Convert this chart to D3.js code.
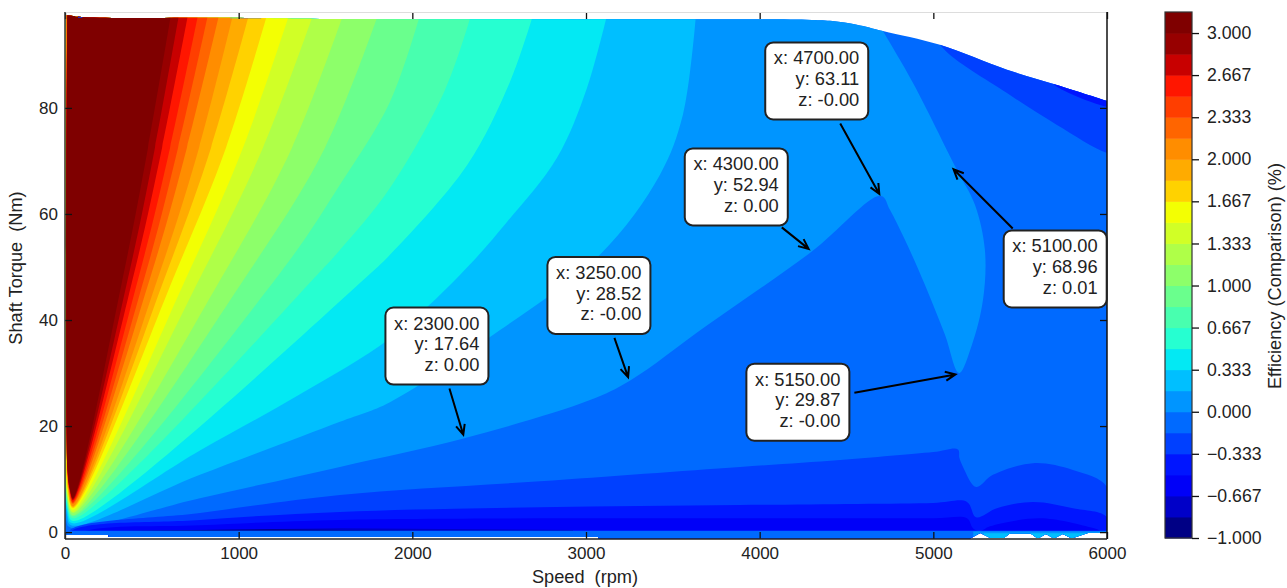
<!DOCTYPE html>
<meta charset="utf-8">
<style>
  html, body { margin: 0; background: #fff; }
  text { font-family: "Liberation Sans", Arial, sans-serif; fill: #222; white-space: pre; }
</style>
<script src="https://d3js.org/d3.v7.min.js"></script>
<div id="my_dataviz"></div>
<script>
  // Colour bands, lowest to highest (one per contour interval)
  const bandColors = ["#000085", "#0000c8", "#0000f8", "#0015ff", "#0040ff", "#006aff", "#0095ff",
    "#00bfff", "#03e9f3", "#26ffd1", "#48ffaf", "#6aff8d", "#8dff6a", "#afff48", "#d1ff26",
    "#f3ff03", "#ffd200", "#ffab00", "#ff8d00", "#ff6500", "#ff3e00", "#ff1600", "#c80000",
    "#970000", "#7f0000"];
  const levelMin = -1;
  const levelStep = 1 / 6;
  const barTicks = [3, 2.667, 2.333, 2, 1.667, 1.333, 1, 0.667, 0.333, 0, -0.333, -0.667, -1];
  const speedTicks = [0, 1000, 2000, 3000, 4000, 5000, 6000];
  const torqueTicks = [0, 20, 40, 60, 80];

  // Edge of the mapped region: [rpm, Nm]
  const domainTop = [[0, 97.5], [115, 97.1], [962, 97], [1353, 96.8], [2800, 96.7], [4000, 96.7], [4300, 96.6], [4420, 96.4], [4560, 95.7],
    [4710, 94.5], [5038, 91.9], [5424, 87.2], [5712, 84.3], [6000, 81.3]];
  const domainBottom = [[6000, -0.19], [5890, -0.19], [5804, -1.1], [5793, -1.1], [5745, -0.38], [5700, -1.1],
    [5689, -1.1], [5648, -0.38], [5608, -1.1], [5597, -1.1], [5560, -0.25], [5440, -0.25], [5407, -1.1],
    [5328, -1.1], [5270, -0.19], [5213, -1.2], [3070, -1.2], [3070, -0.94], [250, -0.94], [250, -0.55], [0, -0.55]];

  // Contour lines above the base band: [rpm, Nm]
  const c06 = [[4612, 100], [4710, 94.5], [4883, 84.7], [5136, 68.3], [5240, 61.7], [5297, 53.2], [5286, 43.8], [5222, 35.3],
    [5148, 30], [5067, 37.2], [4952, 46.6], [4837, 55.1], [4750, 60.8], [4699, 63.4], [4300, 52.9], [3702, 39.1], [3250, 28.5],
    [3023, 24.9], [2300, 17.7], [1583, 12.3], [777, 6.4], [29, 0.9], [6, 2.3], [3, 100]];
  const c07 = [[3633, 97.5], [3558, 78.7], [3426, 67.4], [3080, 52.3], [2505, 38.1], [1871, 24.5], [1583, 20.8], [777, 10.8],
    [35, 1.3], [10, 3.5], [3, 97.5]];
  const c08 = [[3121, 97.5], [3006, 83.8], [2833, 70.6], [2545, 58.5], [2274, 48.5], [1871, 36.5], [1353, 26], [777, 15.4],
    [40, 1.7], [12, 4], [4, 97.5]];
  const c09 = [[2695, 97.5], [2562, 84.9], [2315, 69.2], [1871, 52.3], [1773, 49.2], [46, 2.1], [14, 4.5], [4, 97.5]];
  const c10 = [[2338, 97.5], [2188, 83.4], [1871, 64.9], [1583, 53.2], [1480, 49.5], [46, 2.6], [14, 5], [4, 97.5]];
  const c11 = [[2044, 97.5], [1871, 81.1], [1583, 65.5], [1244, 49.1], [46, 3], [14, 5.5], [4, 97.5]];
  const c12 = [[1802, 97.5], [1497, 72.5], [1059, 49.1], [46, 3.2], [14, 6], [4, 97.5]];
  const c13 = [[1601, 97.5], [1307, 72.5], [921, 49.1], [46, 3.6], [14, 6.5], [5, 97.5]];
  const c14 = [[1428, 97.5], [1140, 72.5], [795, 49.1], [46, 3.8], [14, 7], [5, 97.5]];
  const c15 = [[1290, 97.5], [1025, 72.5], [714, 49.1], [46, 4.2], [14, 7.5], [6, 97.5]];
  const c16 = [[1163, 97.5], [927, 72.5], [639, 49.1], [46, 4.5], [16, 8], [14, 25], [7, 97.5]];
  const c17 = [[1059, 97.5], [841, 72.5], [587, 49.1], [46, 4.7], [16, 8.5], [14, 25], [7, 97.5]];
  const c18 = [[967, 97.5], [772, 72.5], [547, 49.1], [46, 4.9], [18, 9], [14, 25], [7, 97.5]];
  const c19 = [[887, 97.5], [702, 72.5], [501, 49.1], [46, 5.3], [20, 9], [14, 25], [8, 97.5]];
  const c20 = [[823, 97.5], [651, 72.5], [467, 49.1], [46, 5.5], [24, 8], [14, 12], [13, 97.5]];
  const c21 = [[766, 97.5], [605, 72.5], [432, 49.1], [46, 5.7], [26, 8], [14, 12], [13, 97.5]];
  const c22 = [[708, 97.5], [559, 72.5], [400, 49.1], [46, 6], [28, 8], [14, 12], [13, 97.5]];
  const c23 = [[656, 97.5], [518, 72.5], [371, 49.1], [46, 6.2], [29, 8.2], [14, 12], [13.5, 97.5]];
  const c24 = [[610, 97.5], [478, 72.5], [340, 49.1], [46, 6.4], [29, 7.9], [17, 11.1], [14, 97.5]];
  const upperContours = [c06, c07, c08, c09, c10, c11, c12, c13, c14, c15, c16, c17, c18, c19, c20, c21, c22, c23, c24];

  // Contour lines below the base band
  const c05Low = [[0, -2], [29, 0.4], [777, 3.6], [1583, 7], [2735, 9.6], [3887, 12.3], [4463, 13.6], [5000, 15.1], [5142, 15.6], [5150, 14],
    [5171, 12.3], [5246, 8.5], [5343, 10.8], [5574, 13], [5804, 11.7], [6000, 8.5], [6000, -2]];
  const c04Low = [[0, -2], [40, 0.3], [777, 2.3], [1583, 3.8], [2735, 4.7], [3887, 5.1], [5000, 5.5], [5194, 5.7], [5246, 2.8], [5366, 4.5],
    [5574, 5.7], [5804, 4.5], [6000, 2.8], [6000, -2]];
  const c03Low = [[0, -2], [115, 0.2], [777, 1.3], [1583, 2.3], [3887, 2.6], [5000, 2.6], [5194, 2.6], [5228, 0.75], [5269, 0.2], [5326, 1.1],
    [5614, 2.6], [5902, 0.9], [5960, 0.2], [6000, -2]];
  const c02Low = [[202, 0.2], [1583, 0.75], [2925, 0.4], [2925, -2], [202, -2]];
  const c01Low = [[350, 0.25], [1200, 0.55], [2000, 0.25]];
  const c05Corner = [[5000, 95], [5055, 91.3], [5424, 82.8], [5712, 76.8], [6000, 71.5], [6100, 71], [6100, 100], [5000, 100]];
  const c04Corner = [[5650, 86], [5712, 84], [6000, 80.2], [6100, 80], [6100, 100], [5650, 100]];
  const bottomStrip = [[0, 0.25], [6000, 0.25], [6000, -2], [0, -2]];
  const bottomRight06 = [[5230, 0.1], [6000, 0.1], [6000, -2], [5230, -2]];
  const bottomRight07 = [[5290, -0.2], [6000, -0.2], [6000, -2], [5290, -2]];

  // Little slivers along the top edge
  const topSlivers = [
    [[60, 97.6], [75, 97.6], [75, 97.2], [60, 97.2]],
    [[75, 97.6], [100, 97.6], [100, 97.0], [75, 97.0]],
    [[950, 97.6], [1010, 97.6], [1010, 96.9], [950, 96.9]],
    [[1010, 97.6], [1130, 97.6], [1130, 96.9], [1010, 96.9]]
  ];
  const sliverBands = [15, 4, 8, 4];

  // Data tips
  const tipSpeed = [2300, 3250, 4300, 4700, 5100, 5150];
  const tipTorque = [17.64, 28.52, 52.94, 63.11, 68.96, 29.87];
  const tipZ = ["0.00", "-0.00", "0.00", "-0.00", "0.01", "-0.00"];

  // Where each box sits relative to its point and where its arrow starts
  const tipLayout = [
    {boxDx: -79, boxDy: -131, fromDx: -15, fromDy: -50},
    {boxDx: -82, boxDy: -124, fromDx: -15, fromDy: -43},
    {boxDx: -127, boxDy: -103, fromDx: -30, fromDy: -24},
    {boxDx: -116, boxDy: -155, fromDx: -41, fromDy: -74},
    {boxDx: 53, boxDy: 64, fromDx: 62, fromDy: 62},
    {boxDx: -213, boxDy: -10, fromDx: -105, fromDy: 19}
  ];

  const width = 1287, height = 588;
  const plotLeft = 65, plotRight = 1107, plotTop = 13, plotBottom = 539;
  const barLeft = 1165, barRight = 1192, barTop = 12, barBottom = 538;

  const svg = d3.select("#my_dataviz").append("svg")
    .attr("width", width)
    .attr("height", height)
    .style("display", "block");

  const x = d3.scaleLinear().domain([0, 6000]).range([plotLeft, plotRight]);
  const y = d3.scaleLinear().domain([-1.3, 97.9]).range([plotBottom, plotTop]);
  const outline = d3.line().x(d => x(d[0])).y(d => y(d[1]));
  const smooth = d3.line().x(d => x(d[0])).y(d => y(d[1])).curve(d3.curveCatmullRom.alpha(0.5));

  svg.append("clipPath").attr("id", "field")
    .append("path").attr("d", smooth(domainTop) + outline(domainBottom).replace("M", "L") + "Z");

  const field = svg.append("g").attr("clip-path", "url(#field)");

  // Base band, then the nested contour regions painted over it
  field.append("rect")
    .attr("x", plotLeft).attr("y", plotTop)
    .attr("width", plotRight - plotLeft).attr("height", plotBottom - plotTop)
    .attr("fill", bandColors[5]);

  field.selectAll(".upper").data(upperContours).join("path")
    .attr("class", "upper")
    .attr("d", d => smooth(d) + "Z")
    .attr("fill", (d, i) => bandColors[i + 6]);

  // [points, band, curved edge?]
  const lowerFills = [[c05Low, 4, true], [c04Low, 3, true], [c03Low, 2, true], [c02Low, 1, false], [c01Low, 0, false],
    [c05Corner, 4, true], [c04Corner, 3, true], [bottomStrip, 5, false], [bottomRight06, 6, false], [bottomRight07, 7, false]];
  field.selectAll(".lower").data(lowerFills).join("path")
    .attr("class", "lower")
    .attr("d", d => (d[2] ? smooth(d[0]) : outline(d[0])) + "Z")
    .attr("fill", d => bandColors[d[1]]);

  field.selectAll(".sliver").data(topSlivers).join("path")
    .attr("class", "sliver")
    .attr("d", d => outline(d) + "Z")
    .attr("fill", (d, i) => bandColors[sliverBands[i]]);

  // Axes, ticks point inward on all four sides
  const styleAxis = (g, size) => {
    g.select(".domain").remove();
    g.selectAll(".tick line").attr("stroke", "#111").attr("stroke-width", 1.3);
    g.selectAll(".tick text").attr("fill", "#222").style("font-size", size);
  };
  svg.append("g").attr("transform", `translate(0,${plotBottom})`)
    .call(d3.axisBottom(x).tickValues(speedTicks).tickSize(-7).tickPadding(8).tickFormat(d3.format("d")))
    .call(styleAxis, "17px");
  svg.append("g").attr("transform", `translate(0,${plotTop - 1})`)
    .call(d3.axisTop(x).tickValues(speedTicks).tickSize(-7).tickFormat(""))
    .call(styleAxis, "17px");
  svg.append("g").attr("transform", `translate(${plotLeft},0)`)
    .call(d3.axisLeft(y).tickValues(torqueTicks).tickSize(-7).tickPadding(7))
    .call(styleAxis, "17px");
  svg.append("g").attr("transform", `translate(${plotRight},0)`)
    .call(d3.axisRight(y).tickValues(torqueTicks).tickSize(-7).tickFormat(""))
    .call(styleAxis, "17px");

  // Spines
  svg.append("line").attr("x1", plotLeft).attr("x2", plotRight).attr("y1", plotTop - 0.5).attr("y2", plotTop - 0.5)
    .attr("stroke", "#ddd").attr("stroke-width", 1);
  svg.append("line").attr("x1", plotLeft).attr("x2", plotLeft).attr("y1", plotTop - 1).attr("y2", plotBottom)
    .attr("stroke", "#333").attr("stroke-width", 1.5);
  svg.append("line").attr("x1", plotRight).attr("x2", plotRight).attr("y1", plotTop - 1).attr("y2", plotBottom)
    .attr("stroke", "#111").attr("stroke-width", 1.5);
  svg.append("line").attr("x1", plotLeft).attr("x2", plotRight).attr("y1", plotBottom).attr("y2", plotBottom)
    .attr("stroke", "#222").attr("stroke-width", 1.5);

  svg.append("text").attr("x", 585).attr("y", 583).attr("text-anchor", "middle")
    .style("font-size", "18.2px").text("Speed  (rpm)");
  svg.append("text").attr("transform", "translate(22,268) rotate(-90)").attr("text-anchor", "middle")
    .style("font-size", "18.2px").text("Shaft Torque  (Nm)");

  // Colour bar
  const barScale = d3.scaleLinear().domain([-1, 3.1667]).range([barBottom, barTop]);
  svg.selectAll(".band").data(bandColors).join("rect")
    .attr("class", "band")
    .attr("x", barLeft)
    .attr("width", barRight - barLeft)
    .attr("y", (d, i) => barScale(levelMin + (i + 1) * levelStep))
    .attr("height", barScale(levelMin) - barScale(levelMin + levelStep) + 0.5)
    .attr("fill", d => d);
  svg.append("rect")
    .attr("x", barLeft).attr("y", barTop)
    .attr("width", barRight - barLeft).attr("height", barBottom - barTop)
    .attr("fill", "none").attr("stroke", "#333").attr("stroke-width", 1.2);
  svg.append("g").attr("transform", `translate(${barRight},0)`)
    .call(d3.axisRight(barScale).tickValues(barTicks).tickSize(7).tickPadding(7).tickFormat(d3.format(".3f")))
    .call(styleAxis, "17.7px")
    .call(g => g.selectAll(".tick text").attr("x", 15).style("text-anchor", "start"));
  svg.append("text").attr("transform", "translate(1281,276) rotate(-90)").attr("text-anchor", "middle")
    .style("font-size", "18.2px").text("Efficiency (Comparison) (%)");

  // Data tips: arrow first, then the box on top
  const tipG = svg.append("g");
  const barb = 11, spread = 0.42;
  tipSpeed.forEach((speed, i) => {
    const px = x(speed), py = y(tipTorque[i]), lay = tipLayout[i];
    const x0 = px + lay.fromDx, y0 = py + lay.fromDy;
    const ang = Math.atan2(py - y0, px - x0);
    const xEnd = px - 4 * Math.cos(ang), yEnd = py - 4 * Math.sin(ang);
    tipG.append("path")
      .attr("d", `M${x0},${y0}L${xEnd},${yEnd}` +
        `M${xEnd - barb * Math.cos(ang - spread)},${yEnd - barb * Math.sin(ang - spread)}L${xEnd},${yEnd}` +
        `L${xEnd - barb * Math.cos(ang + spread)},${yEnd - barb * Math.sin(ang + spread)}`)
      .attr("fill", "none").attr("stroke", "#000").attr("stroke-width", 2);

    const left = px + lay.boxDx, top = py + lay.boxDy;
    tipG.append("rect")
      .attr("x", left).attr("y", top)
      .attr("width", 103).attr("height", 77)
      .attr("rx", 8).attr("fill", "#fff").attr("stroke", "#222").attr("stroke-width", 2);
    const lines = [`x: ${speed.toFixed(2)}`, `y: ${tipTorque[i].toFixed(2)}`, `z: ${tipZ[i]}`];
    lines.forEach((t, j) => {
      tipG.append("text")
        .attr("x", left + 94).attr("y", top + 22 + j * 20.7)
        .attr("text-anchor", "end")
        .style("font-size", "18.3px")
        .text(t);
    });
  });
</script>
